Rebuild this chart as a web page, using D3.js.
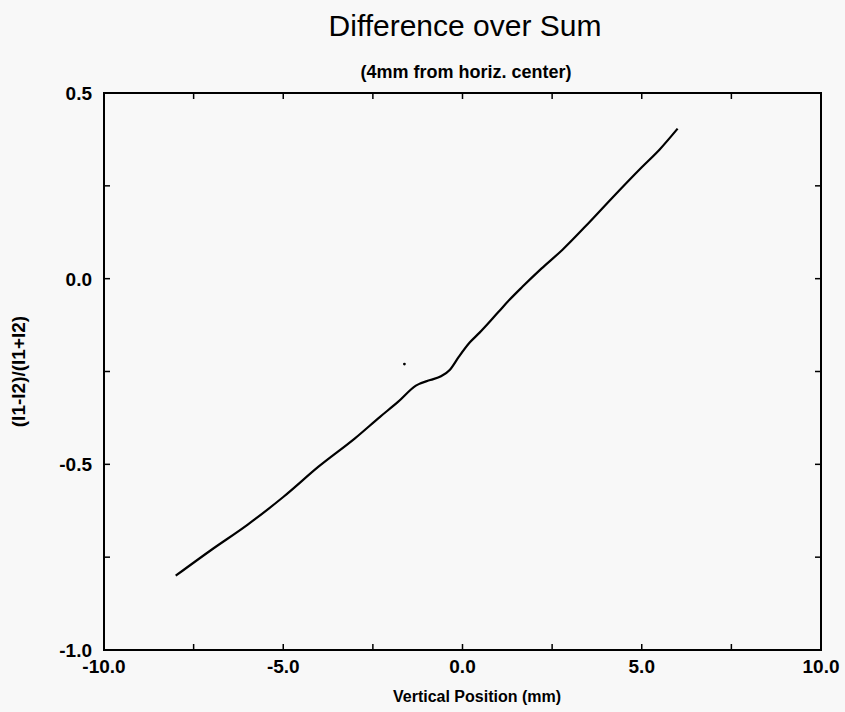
<!DOCTYPE html>
<html>
<head>
<meta charset="utf-8">
<script src="https://cdn.jsdelivr.net/npm/d3@7"></script>
<style>
  body { margin: 0; background: #f8f8f8; }
  svg { display: block; font-family: "Liberation Sans", Arial, sans-serif; }
</style>
</head>
<body>
<svg id="chart" width="845" height="712"></svg>
<script>
// vertical position (mm) and difference-over-sum readings
const positions = [-8, -7, -6, -5, -4, -3, -2.3, -1.8, -1.3, -0.9, -0.6, -0.35, -0.1, 0.2, 0.47, 1.0, 1.31, 1.67, 2.2, 2.79, 3.5, 4.18, 5.0, 5.5, 6.0];
const dos = [-0.80, -0.73, -0.663, -0.588, -0.505, -0.43, -0.372, -0.332, -0.288, -0.273, -0.263, -0.245, -0.21, -0.172, -0.146, -0.09, -0.057, -0.022, 0.027, 0.078, 0.148, 0.218, 0.30, 0.348, 0.404];
// stray speck in the plot area
const speck = [{ x: -1.62, y: -0.23 }];

const xTicks = [-10, -7.5, -5, -2.5, 0, 2.5, 5, 7.5, 10];
const xLabels = [-10, -5, 0, 5, 10];
const yTicks = [0.5, 0.25, 0, -0.25, -0.5, -0.75, -1.0];
const yLabels = [0.5, 0, -0.5, -1.0];

const plotL = 104, plotR = 821, plotT = 93, plotB = 650;
const svg = d3.select("#chart");

const x = d3.scaleLinear().domain([-10, 10]).range([plotL, plotR]);
const y = d3.scaleLinear().domain([-1, 0.5]).range([plotB, plotT]);
// plain hyphen for negatives, as in the original
const fmt = d => d3.format(".1f")(d).replace("\u2212", "-");

// frame
svg.append("rect")
  .attr("x", plotL).attr("y", plotT)
  .attr("width", plotR - plotL).attr("height", plotB - plotT)
  .attr("fill", "none").attr("stroke", "#000").attr("stroke-width", 2);

const tickLen = 6;
// bottom and top ticks (inward)
svg.selectAll(".xt-b").data(xTicks).enter().append("line")
  .attr("x1", d => x(d)).attr("x2", d => x(d))
  .attr("y1", plotB).attr("y2", plotB - tickLen)
  .attr("stroke", "#000").attr("stroke-width", 1.5);
svg.selectAll(".xt-t").data(xTicks).enter().append("line")
  .attr("x1", d => x(d)).attr("x2", d => x(d))
  .attr("y1", plotT).attr("y2", plotT + tickLen)
  .attr("stroke", "#000").attr("stroke-width", 1.5);
// left and right ticks
svg.selectAll(".yt-l").data(yTicks).enter().append("line")
  .attr("x1", plotL).attr("x2", plotL + tickLen)
  .attr("y1", d => y(d)).attr("y2", d => y(d))
  .attr("stroke", "#000").attr("stroke-width", 1.5);
svg.selectAll(".yt-r").data(yTicks).enter().append("line")
  .attr("x1", plotR).attr("x2", plotR - tickLen)
  .attr("y1", d => y(d)).attr("y2", d => y(d))
  .attr("stroke", "#000").attr("stroke-width", 1.5);

// tick labels
svg.selectAll(".xl").data(xLabels).enter().append("text")
  .attr("x", d => x(d)).attr("y", 673)
  .attr("text-anchor", "middle")
  .style("font-size", "19px").style("font-weight", "700")
  .text(fmt);

svg.selectAll(".yl").data(yLabels).enter().append("text")
  .attr("x", 92).attr("y", d => y(d) + 7)
  .attr("text-anchor", "end")
  .style("font-size", "19px").style("font-weight", "700")
  .text(fmt);

// curve
const line = d3.line()
  .x((d, i) => x(positions[i]))
  .y(d => y(d))
  .curve(d3.curveMonotoneX);

svg.append("path")
  .datum(dos)
  .attr("d", line)
  .attr("fill", "none")
  .attr("stroke", "#000")
  .attr("stroke-width", 2.2);

svg.selectAll(".speck").data(speck).enter().append("circle")
  .attr("cx", d => x(d.x)).attr("cy", d => y(d.y))
  .attr("r", 1.4).attr("fill", "#000");

// titles
svg.append("text")
  .attr("x", 465).attr("y", 36)
  .attr("text-anchor", "middle")
  .style("font-size", "30px")
  .text("Difference over Sum");

svg.append("text")
  .attr("x", 466).attr("y", 78)
  .attr("text-anchor", "middle")
  .style("font-size", "18px").style("font-weight", "700")
  .text("(4mm from horiz. center)");

svg.append("text")
  .attr("x", 477).attr("y", 702)
  .attr("text-anchor", "middle")
  .style("font-size", "16px").style("font-weight", "700")
  .text("Vertical Position (mm)");

svg.append("text")
  .attr("transform", "translate(25," + ((plotT + plotB) / 2) + ") rotate(-90)")
  .attr("text-anchor", "middle")
  .style("font-size", "19px").style("font-weight", "700")
  .text("(I1-I2)/(I1+I2)");
</script>
</body>
</html>
